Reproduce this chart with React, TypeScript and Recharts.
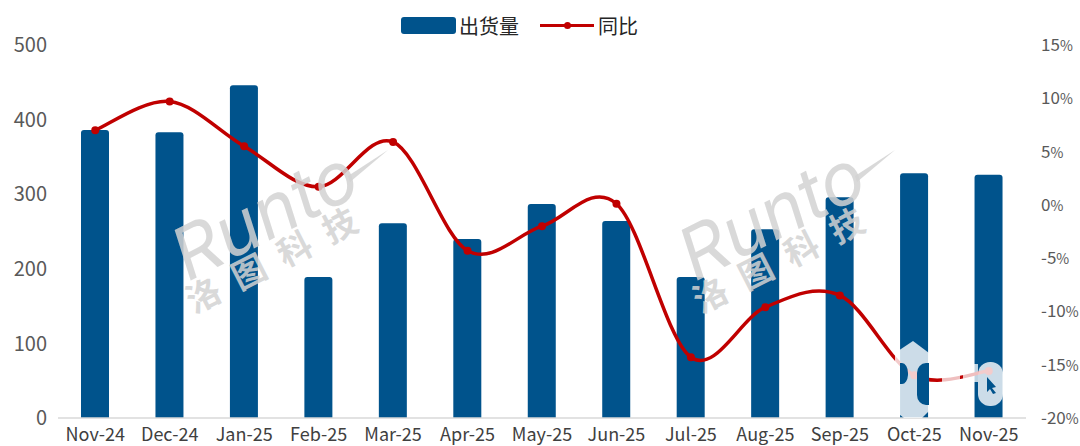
import { Bar, ComposedChart, Line, XAxis, YAxis } from 'recharts'

const months = ['Nov-24', 'Dec-24', 'Jan-25', 'Feb-25', 'Mar-25', 'Apr-25', 'May-25', 'Jun-25', 'Jul-25', 'Aug-25', 'Sep-25', 'Oct-25', 'Nov-25']
const shipments = [386, 383, 446, 189, 261, 240, 287, 264, 189, 253, 296, 328, 326]
const yoy = [7.0, 9.7, 5.5, 1.7, 5.9, -4.3, -2.0, 0.1, -14.3, -9.6, -8.5, -16.0, -15.6]
const leftTicks = [0, 100, 200, 300, 400, 500]
const rightTicks = [-20, -15, -10, -5, 0, 5, 10, 15]

const data = months.map((month, i) => ({ month, shipments: shipments[i], yoy: yoy[i] }))

const BLUE = '#00538c'
const RED = '#c00000'
const FONT = '"Noto Sans CJK SC", "Noto Sans", sans-serif'

// excel style smoothed line
function excelSmooth(ctx: any) {
  let pts: number[][] = []
  return {
    areaStart() {},
    areaEnd() {},
    lineStart() {
      pts = []
    },
    point(x: number, y: number) {
      pts.push([+x, +y])
    },
    lineEnd() {
      if (!pts.length) return
      ctx.moveTo(pts[0][0], pts[0][1])
      const k = 1 / 6
      for (let i = 0; i < pts.length - 1; i++) {
        const p0 = pts[i - 1] || pts[i]
        const p1 = pts[i]
        const p2 = pts[i + 1]
        const p3 = pts[i + 2] || p2
        ctx.bezierCurveTo(
          p1[0] + (p2[0] - p0[0]) * k,
          p1[1] + (p2[1] - p0[1]) * k,
          p2[0] - (p3[0] - p1[0]) * k,
          p2[1] - (p3[1] - p1[1]) * k,
          p2[0],
          p2[1],
        )
      }
    },
  }
}

function Watermark({ dx }: { dx: number }) {
  return (
    <g transform={`translate(${dx} 0)`} fontFamily={FONT} fill="#d2d2d2" fillOpacity={0.85}>
      <text x={188} y={282} fontSize={72} fontStyle="italic" fontFamily="Inter, sans-serif" fontWeight={400} transform="rotate(-27 188 282)">
        Runto
      </text>
      <text x={194} y={314} fontSize={34} fontWeight={700} letterSpacing={17} transform="rotate(-27 194 314)">
        洛图科技
      </text>
      <polygon points="348,176 388,150 350,182" />
    </g>
  )
}

function Overlay() {
  return (
    <svg width={1080} height={446} style={{ position: 'absolute', left: 0, top: 0, pointerEvents: 'none' }}>
      <Watermark dx={0} />
      <Watermark dx={507} />
      <polygon points="913,341 929,353 929,411 922,418 904,418 895,411 895,353" fill="#fff" fillOpacity={0.8} />
      <path d="M900 363 h2 a6 10 0 0 1 6 10 v2 a6 10 0 0 1 -6 9 h-2 z" fill={BLUE} />
      <path d="M929 363 h-3 a9 10 0 0 0 -9 10 v22 a9 10 0 0 0 9 10 h3 z" fill={BLUE} />
      <rect x={978} y={362} width={25} height={44} rx={12} fill="#fff" fillOpacity={0.8} />
      <polygon points="987,377 996,387 992,388 996,393 993,394 990,389 987,392" fill={BLUE} />
      <rect x={942} y={368} width={18} height={16} fill="#fff" fillOpacity={0.75} />
      <rect x={963} y={364} width={15} height={18} fill="#fff" fillOpacity={0.75} />
    </svg>
  )
}

function RightTick({ y, payload }: any) {
  return (
    <text x={1041} y={y + 6} fontSize={17} fontFamily={FONT} fill="#595959">
      {payload.value < 0 ? '-' + Math.abs(payload.value) : payload.value}
      <tspan fontSize={14}>%</tspan>
    </text>
  )
}

function LegendBox() {
  const label = { position: 'absolute', top: 12, fontSize: 20, lineHeight: '28px', fontFamily: FONT, color: '#262626' } as const
  return (
    <div>
      <div style={{ position: 'absolute', left: 401, top: 17, width: 55, height: 17, background: BLUE, borderRadius: 3 }} />
      <div style={{ ...label, left: 459 }}>出货量</div>
      <div style={{ position: 'absolute', left: 540, top: 24, width: 54, height: 3, background: RED }} />
      <div style={{ position: 'absolute', left: 564, top: 22, width: 7, height: 7, borderRadius: '50%', background: RED }} />
      <div style={{ ...label, left: 598 }}>同比</div>
    </div>
  )
}

export default function App() {
  return (
    <div style={{ position: 'absolute', left: 0, top: 0, width: 1080, height: 446, background: '#fff', overflow: 'hidden' }}>
      <ComposedChart width={1080} height={446} data={data} margin={{ top: 45, right: 0, bottom: 0, left: 0 }}>
        <XAxis
          dataKey="month"
          interval={0}
          height={28}
          tickLine={false}
          axisLine={{ stroke: '#d9d9d9', strokeWidth: 1.5 }}
          tick={{ fontSize: 18, fontFamily: FONT, fill: '#404040' }}
          tickMargin={4}
        />
        <YAxis
          yAxisId="left"
          width={58}
          domain={[0, 500]}
          ticks={leftTicks}
          axisLine={false}
          tickLine={false}
          tickMargin={5}
          tick={{ fontSize: 20, fontFamily: FONT, fill: '#595959' }}
        />
        <YAxis
          yAxisId="right"
          orientation="right"
          width={54}
          domain={[-20, 15]}
          ticks={rightTicks}
          axisLine={false}
          tickLine={false}
          tick={<RightTick />}
        />
        <Bar yAxisId="left" dataKey="shipments" fill={BLUE} radius={[3, 3, 0, 0]} barSize={28} isAnimationActive={false} />
        <Line
          yAxisId="right"
          dataKey="yoy"
          type={excelSmooth as any}
          stroke={RED}
          strokeWidth={3.5}
          dot={{ r: 4, fill: RED, stroke: RED, strokeWidth: 0 }}
          isAnimationActive={false}
        />
      </ComposedChart>
      <Overlay />
      <LegendBox />
    </div>
  )
}
